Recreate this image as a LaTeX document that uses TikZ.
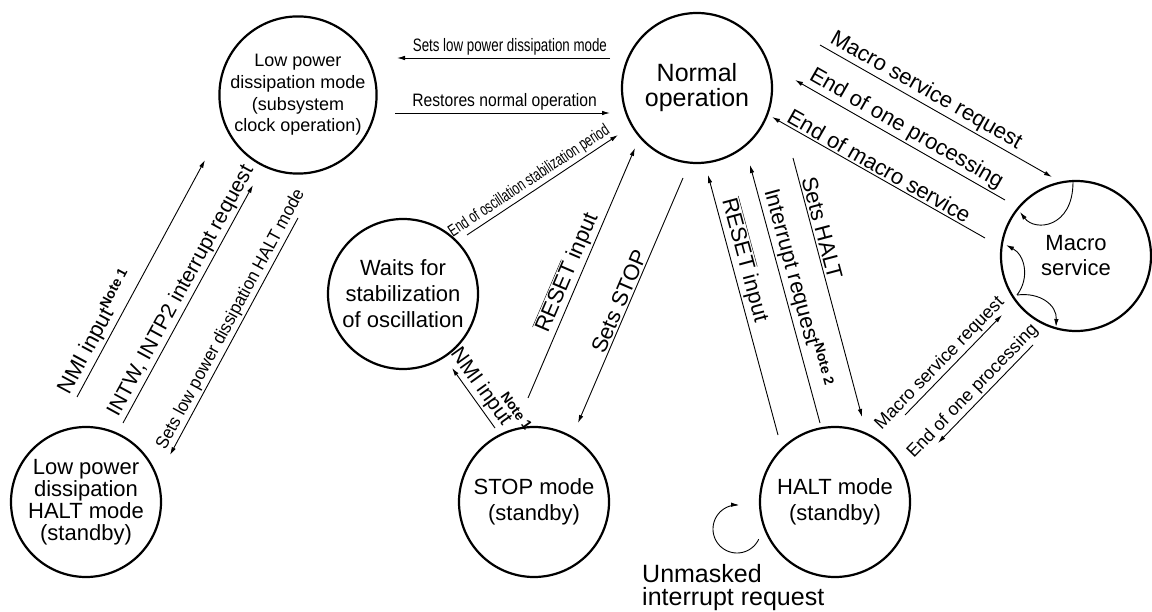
\documentclass[tikz,border=0pt]{standalone}
\usepackage{fontspec}
\setmainfont{Liberation Sans}
\newfontfamily\fsA[FakeStretch=0.74]{Liberation Sans}
\newfontfamily\fsB[FakeStretch=0.87]{Liberation Sans}
\newfontfamily\fsC[FakeStretch=0.69]{Liberation Sans}
\newfontfamily\fsD[FakeStretch=0.94]{Liberation Sans}
\usetikzlibrary{arrows.meta}
\newcommand{\fsz}[2]{\fontsize{#1}{#2}\selectfont}
\newcommand{\notetxt}[1]{\raisebox{0.35em}{\fontsize{14}{14}\selectfont\bfseries Note #1}}
\newcommand{\rst}{$\overline{\mbox{RESET}}$}
\begin{document}
\begin{tikzpicture}[x=1pt,y=-1pt,
  state/.style={circle, draw, line width=2.2pt, minimum size=150pt, inner sep=0pt, align=center},
  tr/.style={line width=0.9pt, -{Latex[length=8pt,width=4.5pt]}},
  lab/.style={sloped, above=1pt, inner sep=1pt, font=\fsz{22}{24}},
]
\useasboundingbox (0,0) rectangle (1152,612);

% states
\node[state, font=\fsz{18}{21.7}] (LP) at (298,95) {Low power\\dissipation mode\\(subsystem\\clock operation)};
\node[state, font=\fsz{25}{25}] (N) at (697,88) {Normal\\operation};
\node[state, font=\fsz{22}{25}] (M) at (1076,256) {Macro\\service};
\node[state, font=\fsz{22}{26}] (W) at (403,294) {Waits for\\stabilization\\of oscillation};
\node[state, font=\fsz{22}{25.7}] (S) at (534,502) {STOP mode\\(standby)};
\node[state, font=\fsz{22}{25.7}] (H) at (835,502) {HALT mode\\(standby)};
\node[state, font=\fsz{22}{22}] (LH) at (86,502) {Low power\\dissipation\\HALT mode\\(standby)};

% connector end points
\coordinate (a1s) at (610,58);   \coordinate (a1e) at (397,58);
\coordinate (a2s) at (395,113);  \coordinate (a2e) at (610,113);
\coordinate (a3s) at (467,235);  \coordinate (a3e) at (618,135);
\coordinate (a4s) at (528,398);  \coordinate (a4e) at (635,148);
\coordinate (a5s) at (683,178);  \coordinate (a5e) at (578,423);
\coordinate (a6s) at (495,428);  \coordinate (a6e) at (452,368);
\coordinate (a7s) at (778,435);  \coordinate (a7e) at (708,175);
\coordinate (a8s) at (820,423);  \coordinate (a8e) at (750,165);
\coordinate (a9s) at (793,158);  \coordinate (a9e) at (862,417);
\coordinate (a10s) at (820,45);  \coordinate (a10e) at (1052,177);
\coordinate (a11s) at (1005,200); \coordinate (a11e) at (795,80);
\coordinate (a12s) at (985,238); \coordinate (a12e) at (772,117);
\coordinate (a13s) at (905,415); \coordinate (a13e) at (1002,315);
\coordinate (a14s) at (1033,345); \coordinate (a14e) at (938,443);
\coordinate (a15s) at (77,397);  \coordinate (a15e) at (205,160);
\coordinate (a16s) at (123,423); \coordinate (a16e) at (253,185);
\coordinate (a17s) at (298,218); \coordinate (a17e) at (170,455);

% transitions
\draw[tr] (a1s) -- node[lab, pos=0.47, font=\fsA\fsz{18}{20}] {Sets low power dissipation mode} (a1e);
\draw[tr] (a2s) -- node[lab, pos=0.51, font=\fsB\fsz{18}{20}] {Restores normal operation} (a2e);
\draw[tr] (a3s) -- node[lab, pos=0.45, font=\fsC\fsz{17}{20}] {End of oscillation stabilization period} (a3e);
\draw[tr] (a4s) -- node[lab, pos=0.48] {\rst{} input} (a4e);
\draw[tr] (a5s) -- node[lab, pos=0.52] {Sets STOP} (a5e);
\draw[tr] (a6s) -- node[lab, pos=0.45, font=\fsz{21}{22}] {NMI input\hspace{-26pt}\raisebox{0.75em}{\fontsize{14}{14}\selectfont\bfseries Note 1}} (a6e);
\draw[tr] (a7s) -- node[lab, pos=0.66] {\rst{} input} (a7e);
\draw[tr] (a8s) -- node[lab, pos=0.51] {Interrupt request\notetxt{2}} (a8e);
\draw[tr] (a9s) -- node[lab, pos=0.28] {Sets HALT} (a9e);
\draw[tr] (a10s) -- node[lab, pos=0.43] {Macro service request} (a10e);
\draw[tr] (a11s) -- node[lab, pos=0.50] {End of one processing} (a11e);
\draw[tr] (a12s) -- node[lab, pos=0.52] {End of macro service} (a12e);
\draw[tr] (a13s) -- node[lab, pos=0.44, font=\fsz{18}{20}] {Macro service request} (a13e);
\draw[tr] (a14s) -- node[lab, pos=0.55, font=\fsz{18}{20}] {End of one processing} (a14e);
\draw[tr] (a15s) -- node[lab, pos=0.245] {NMI input\notetxt{1}} (a15e);
\draw[tr] (a16s) -- node[lab, pos=0.53, font=\fsz{21}{22}] {INTW, INTP2 interrupt request} (a16e);
\draw[tr] (a17s) -- node[lab, pos=0.45, font=\fsD\fsz{18}{20}] {Sets low power dissipation HALT mode} (a17e);

% paths inside macro service
\coordinate (m1) at (1073,182);
\coordinate (m2) at (1020,212);
\coordinate (m3) at (1017,295);
\coordinate (m4) at (1006,245);
\coordinate (m5) at (1056,327);
\draw[tr] (m1) .. controls (1073,228) and (1035,232) .. (m2);
\draw[tr] (m3) .. controls (1030,278) and (1025,255) .. (m4);
\draw[tr] (m3) .. controls (1040,292) and (1057,305) .. (m5);

% self loop of HALT mode
\draw[tr] plot[domain=25:275, samples=60] ({737+24*cos(\x)}, {529+24*sin(\x)});
\node[anchor=north west, align=left, inner sep=0pt, font=\fsz{25}{23}] (U) at (642,564) {Unmasked\\interrupt request};
\end{tikzpicture}
\end{document}
